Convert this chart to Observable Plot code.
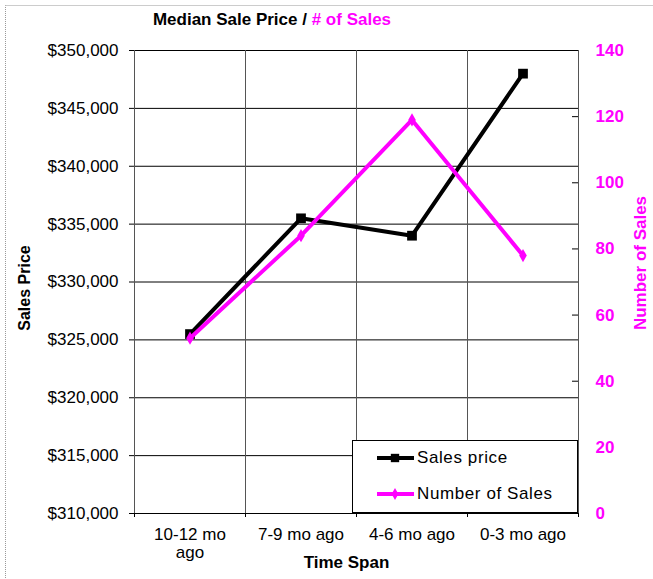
<!DOCTYPE html>
<html>
<head>
<meta charset="utf-8">
<script src="https://cdn.jsdelivr.net/npm/d3@7"></script>
<script src="https://cdn.jsdelivr.net/npm/@observablehq/plot@0.6"></script>
<style>
  html, body { margin: 0; padding: 0; background: #fff; }
  #wrap { position: relative; width: 653px; height: 579px; overflow: hidden; font-family: "Liberation Sans", Arial, sans-serif; }
  #frameline { position: absolute; left: 5px; top: 5px; width: 700px; height: 700px; border-left: 1px dotted #999; border-top: 1px solid #ccc; }
  #title { position: absolute; left: 0; top: 0; width: 544px; height: 38px; text-align: center; font-weight: bold; font-size: 17px; line-height: 40px; }
  #chart { position: absolute; left: 0; top: 38px; }
  #legend { position: absolute; left: 352px; top: 440px; width: 226px; height: 73px; background: #fff; border: 1px solid #000; box-sizing: border-box; font-size: 17px; letter-spacing: 0.6px; }
  .row { position: absolute; left: 22px; display: flex; align-items: center; }
  .row svg { margin-right: 2px; }
</style>
</head>
<body>
<div id="wrap">
  <div id="frameline"></div>
  <div id="title">Median Sale Price / <span style="color:#FF00FF"># of Sales</span></div>
  <div id="chart"></div>
  <div id="legend"></div>
</div>
<script>
const categories = ["10-12 mo ago", "7-9 mo ago", "4-6 mo ago", "0-3 mo ago"];
const categoryLabels = ["10-12 mo\nago", "7-9 mo ago", "4-6 mo ago", "0-3 mo ago"];
const salesPrice = [325500, 335500, 334000, 348000];
const numberOfSales = [53, 84, 119, 78];
const priceTicks = [310000, 315000, 320000, 325000, 330000, 335000, 340000, 345000, 350000];
const salesTicks = [0, 20, 40, 60, 80, 100, 120, 140];
const seriesNames = ["Sales price", "Number of Sales"];

const MAGENTA = "#FF00FF";
const priceMin = 310000, priceMax = 350000, salesMax = 140;
const toPrice = s => priceMin + s / salesMax * (priceMax - priceMin);
const toSales = p => (p - priceMin) / (priceMax - priceMin) * salesMax;

const idx = categories.map((_, i) => i);
const boundaries = d3.range(categories.length + 1).map(i => i - 0.5);
const priceData = idx.map(i => ({i, v: salesPrice[i]}));
const salesData = idx.map(i => ({i, v: toPrice(numberOfSales[i])}));
const fmtPrice = d => "$" + d3.format(",")(d);

const plot = Plot.plot({
  width: 653,
  height: 541,
  marginLeft: 134,
  marginRight: 75,
  marginTop: 12,
  marginBottom: 66,
  style: {fontFamily: "'Liberation Sans', Arial, sans-serif", background: "transparent", overflow: "visible"},
  x: {type: "linear", domain: [-0.5, categories.length - 0.5]},
  y: {domain: [priceMin, priceMax]},
  marks: [
    Plot.ruleY(priceTicks, {stroke: "#000", strokeWidth: 1}),
    Plot.ruleX(boundaries, {stroke: "#555", strokeWidth: 1}),
    Plot.tickY(salesTicks.map(toPrice), {stroke: "#000", insetLeft: 438}),
    Plot.axisY({ticks: priceTicks, tickFormat: fmtPrice, tickSize: 5, tickPadding: 11, fontSize: 17, letterSpacing: 0.7, label: null, color: "#000"}),
    Plot.axisY({anchor: "right", ticks: salesTicks.map(toPrice), tickFormat: d => String(Math.round(toSales(d))), tickSize: 0, tickPadding: 17, fontSize: 17, fontWeight: "bold", fill: MAGENTA, label: null}),
    Plot.axisX({ticks: boundaries, tickFormat: () => "", tickSize: 4, label: null}),
    Plot.axisX({ticks: idx, tickFormat: i => categoryLabels[i], tickSize: 0, tickPadding: 13, fontSize: 17, letterSpacing: 0.9, lineHeight: 1.1, label: null}),
    Plot.line(priceData, {x: "i", y: "v", stroke: "#000", strokeWidth: 4}),
    Plot.dot(priceData, {x: "i", y: "v", symbol: "square", r: 5.5, fill: "#000"}),
    Plot.line(salesData, {x: "i", y: "v", stroke: MAGENTA, strokeWidth: 4}),
    Plot.dot(salesData, {x: "i", y: "v", symbol: "diamond", r: 4, fill: MAGENTA}),
    Plot.text(["Sales Price"], {frameAnchor: "left", textAnchor: "middle", rotate: -90, dx: -110, dy: 6, fontSize: 16, fontWeight: "bold", fill: "#000"}),
    Plot.text(["Number of Sales"], {frameAnchor: "right", textAnchor: "middle", rotate: -90, dx: 62, dy: -19, fontSize: 17, fontWeight: "bold", fill: MAGENTA}),
    Plot.text(["Time Span"], {frameAnchor: "bottom", dx: -10, dy: 54, fontSize: 17, fontWeight: "bold", letterSpacing: 1.2, fill: "#000"})
  ]
});
document.getElementById("chart").appendChild(plot);

// legend
const legend = document.getElementById("legend");
const rows = [
  {name: seriesNames[0], color: "#000", symbol: d3.symbolSquare, size: 70, top: 7},
  {name: seriesNames[1], color: MAGENTA, symbol: d3.symbolDiamond, size: 40, top: 43}
];
rows.forEach(r => {
  const div = document.createElement("div");
  div.className = "row";
  div.style.top = r.top + "px";
  const svg = d3.create("svg").attr("width", 40).attr("height", 20);
  svg.append("line").attr("x1", 2).attr("x2", 39).attr("y1", 10).attr("y2", 10).attr("stroke", r.color).attr("stroke-width", 4);
  svg.append("path").attr("d", d3.symbol(r.symbol, r.size)()).attr("transform", "translate(20,10)").attr("fill", r.color);
  div.appendChild(svg.node());
  const span = document.createElement("span");
  span.textContent = r.name;
  div.appendChild(span);
  legend.appendChild(div);
});
</script>
</body>
</html>
